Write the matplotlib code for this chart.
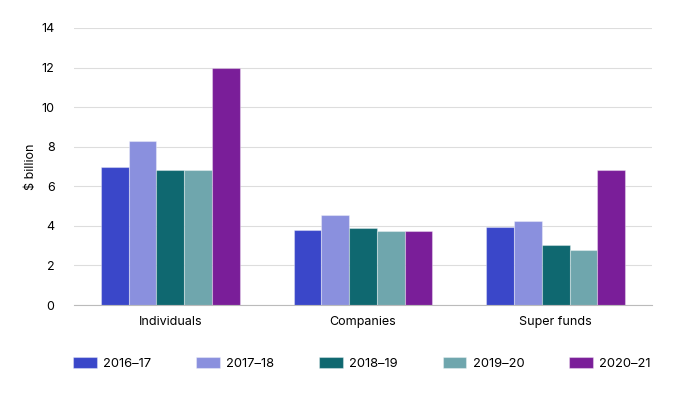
import matplotlib
matplotlib.use("Agg")
import matplotlib.pyplot as plt
import numpy as np

plt.rcParams['font.family'] = ['Inter', 'DejaVu Sans']

categories = ["Individuals", "Companies", "Super funds"]
years = ["2016\u201317", "2017\u201318", "2018\u201319", "2019\u201320", "2020\u201321"]
v2016 = [7.0, 3.8, 3.95]
v2017 = [8.3, 4.55, 4.25]
v2018 = [6.8, 3.9, 3.05]
v2019 = [6.8, 3.75, 2.8]
v2020 = [12.0, 3.75, 6.8]
series = [v2016, v2017, v2018, v2019, v2020]
colors = ["#3a47c9", "#8a90de", "#0f6870", "#6fa6ad", "#7a1e99"]

fig = plt.figure(figsize=(6.89, 3.93), dpi=100)
ax = fig.add_axes([74 / 689, 1 - 305 / 393, 578 / 689, 277 / 393])

x = np.arange(len(categories))
w = 0.144
for i, (vals, c) in enumerate(zip(series, colors)):
    ax.bar(x + (i - 2) * w, vals, width=w, color=c, label=years[i],
           edgecolor=(1, 1, 1, 0.35), linewidth=0.8, zorder=3)

ax.set_xlim(-0.5, 2.5)
ax.set_ylim(0, 14)
ax.set_yticks(np.arange(0, 15, 2))
ax.set_xticks(x)
ax.set_xticklabels(categories, fontsize=9)
ax.tick_params(axis='y', labelsize=9, length=0, pad=14)
ax.tick_params(axis='x', length=0, pad=8)
ax.grid(axis='y', color='#dddddd', linewidth=0.8, zorder=0)
for s in ['top', 'right', 'left']:
    ax.spines[s].set_visible(False)
ax.spines['bottom'].set_color('#bbbbbb')
ax.spines['bottom'].set_zorder(4)
ax.set_ylabel("$ billion", fontsize=9, labelpad=3)

leg = fig.legend(loc='center', ncol=5, frameon=False, fontsize=9.3,
                 bbox_to_anchor=(362 / 689, 1 - 363.5 / 393), handlelength=1.85, handleheight=0.95,
                 columnspacing=3.45, handletextpad=0.5)

fig.savefig("out.png", dpi=100)
